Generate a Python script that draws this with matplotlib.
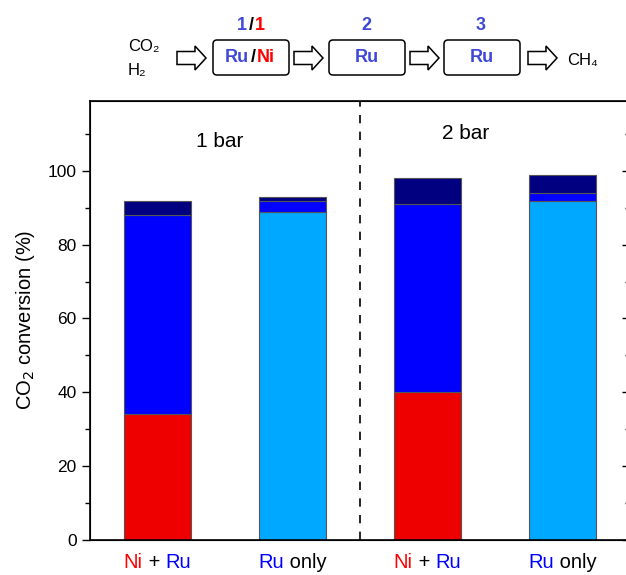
import matplotlib.pyplot as plt
from matplotlib.patches import FancyBboxPatch, Polygon
from matplotlib.offsetbox import TextArea, HPacker, AnnotationBbox

plt.rcParams['font.family'] = ['Liberation Sans', 'DejaVu Sans']

# stacked contributions of each reactor (%)
groups = ['Ni + Ru', 'Ru only', 'Ni + Ru', 'Ru only']
first_reactor = [34, 89, 40, 92]     # reactor 1 (Ru/Ni or Ru)
second_reactor = [54, 3, 51, 2]      # reactor 2
third_reactor = [4, 1, 7, 5]         # reactor 3
first_colors = ['#EE0000', '#00A8FF', '#EE0000', '#00A8FF']
pressures = ['1 bar', '2 bar']

fig = plt.figure(figsize=(6.26, 5.75), dpi=100)
ax = fig.add_axes([0.1438, 0.0617, 0.8626, 0.7626])

x = [1, 2, 3, 4]
bottom2 = first_reactor
bottom3 = [a + b for a, b in zip(first_reactor, second_reactor)]
ax.bar(x, first_reactor, width=0.5, color=first_colors, edgecolor='#555555', linewidth=0.8)
ax.bar(x, second_reactor, width=0.5, bottom=bottom2, color='#0000FF', edgecolor='#555555', linewidth=0.8)
ax.bar(x, third_reactor, width=0.5, bottom=bottom3, color='#000080', edgecolor='#555555', linewidth=0.8)

ax.axvline(2.5, color='black', linestyle=(0, (5, 5)), linewidth=1.2)
ax.text(1.46, 108, pressures[0], fontsize=15, ha='center', va='center')
ax.text(3.28, 110.3, pressures[1], fontsize=15, ha='center', va='center')

ax.set_xlim(0.5, 4.5)
ax.set_ylim(0, 119)
ax.set_yticks([0, 20, 40, 60, 80, 100])
ax.set_yticks([10, 30, 50, 70, 90, 110], minor=True)
ax.tick_params(axis='y', which='major', direction='out', length=6, width=1, labelsize=12.5)
ax.tick_params(axis='y', which='minor', direction='out', length=3.5, width=1)
ax.set_xticks([])
for s in ax.spines.values():
    s.set_linewidth(1.2)
ax.set_ylabel('CO$_2$ conversion (%)', fontsize=14.5, labelpad=8)

# inward ticks on the right frame
rax = ax.twinx()
rax.set_ylim(ax.get_ylim())
rax.set_yticks([0, 20, 40, 60, 80, 100])
rax.set_yticks([10, 30, 50, 70, 90, 110], minor=True)
rax.tick_params(axis='y', which='major', direction='in', length=6, width=1, labelright=False)
rax.tick_params(axis='y', which='minor', direction='in', length=3.5, width=1)

# two-colour category labels
red, blue = '#FF0000', '#0000FF'
for xi, g in zip(x, groups):
    if g.startswith('Ni'):
        parts = [('Ni', red), (' + ', 'black'), ('Ru', blue)]
    else:
        parts = [('Ru', blue), (' only', 'black')]
    boxes = [TextArea(t, textprops=dict(color=c, fontsize=14.5)) for t, c in parts]
    pack = HPacker(children=boxes, pad=0, sep=0)
    ab = AnnotationBbox(pack, (xi, 0), xycoords=('data', 'axes fraction'),
                        xybox=(0, -10), boxcoords='offset points',
                        box_alignment=(0.5, 1), frameon=False, pad=0)
    ax.add_artist(ab)

# reactor scheme above the plot, in pixel coordinates
top = fig.add_axes([0, 0, 1, 1], zorder=-1)
top.set_xlim(0, 626)
top.set_ylim(575, 0)
top.axis('off')


def hollow_arrow(x0, x1, yc):
    xh = x0 + 0.62 * (x1 - x0)
    pts = [(x0, yc - 6.5), (xh, yc - 6.5), (xh, yc - 12), (x1, yc), (xh, yc + 12),
           (xh, yc + 6.5), (x0, yc + 6.5)]
    top.add_patch(Polygon(pts, closed=True, facecolor='white', edgecolor='black', linewidth=1.1))


scheme_blue = '#4048D8'
for bx in [213, 329, 444]:
    top.add_patch(FancyBboxPatch((bx + 3, 43), 70, 29, boxstyle='round,pad=3,rounding_size=4',
                                 facecolor='white', edgecolor='black', linewidth=1.1))
for ax0 in [177, 294, 410, 528]:
    hollow_arrow(ax0, ax0 + 29, 58)

top.text(128, 47, 'CO₂', fontsize=12, va='center')
top.text(128, 70, 'H₂', fontsize=12, va='center')
top.text(567, 61, 'CH₄', fontsize=12, va='center')

lab = HPacker(children=[TextArea('Ru', textprops=dict(color=scheme_blue, fontsize=13, fontweight='bold')),
                        TextArea('/', textprops=dict(color='black', fontsize=13, fontweight='bold')),
                        TextArea('Ni', textprops=dict(color=red, fontsize=13, fontweight='bold'))],
              pad=0, sep=1)
top.add_artist(AnnotationBbox(lab, (250, 58), frameon=False, pad=0, box_alignment=(0.5, 0.5)))
top.text(367, 58, 'Ru', fontsize=13, fontweight='bold', color=scheme_blue, ha='center', va='center')
top.text(482, 58, 'Ru', fontsize=13, fontweight='bold', color=scheme_blue, ha='center', va='center')

num = HPacker(children=[TextArea('1', textprops=dict(color=scheme_blue, fontsize=13, fontweight='bold')),
                        TextArea('/', textprops=dict(color='black', fontsize=13, fontweight='bold')),
                        TextArea('1', textprops=dict(color=red, fontsize=13, fontweight='bold'))],
              pad=0, sep=1)
top.add_artist(AnnotationBbox(num, (251, 25), frameon=False, pad=0, box_alignment=(0.5, 0.5)))
top.text(366, 25, '2', fontsize=13, fontweight='bold', color=scheme_blue, ha='center', va='center')
top.text(481, 25, '3', fontsize=13, fontweight='bold', color=scheme_blue, ha='center', va='center')

fig.savefig('out.png', dpi=100)
